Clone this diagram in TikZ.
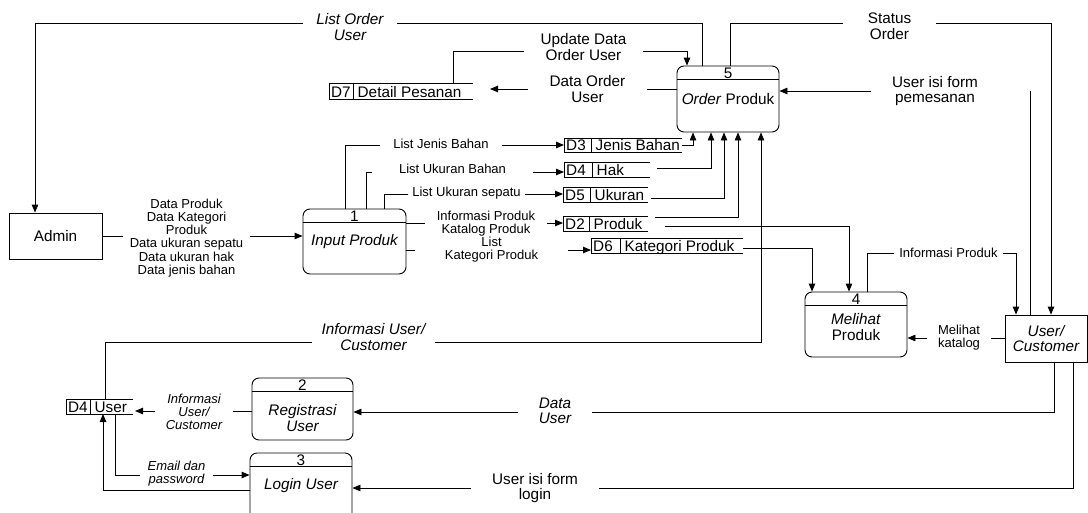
\documentclass[tikz,border=0pt]{standalone}
\usepackage{fontspec}
\setmainfont{Liberation Sans}
\usetikzlibrary{arrows.meta}
\tikzset{
  every picture/.style={x=1pt,y=-1pt},
  ln/.style={line width=0.9pt},
  fl/.style={line width=0.9pt, -{Triangle[length=8pt,width=6.5pt]}},
  big/.style={font=\fontsize{15.3}{15.5}\selectfont, inner sep=0pt, align=center},
  bigit/.style={font=\fontsize{15.3}{15.5}\selectfont\itshape, inner sep=0pt, align=center},
  sm/.style={font=\fontsize{13}{13.2}\selectfont, inner sep=0pt, align=center},
  smit/.style={font=\fontsize{13}{13.2}\selectfont\itshape, inner sep=0pt, align=center},
  lbl/.style={fill=white, inner xsep=0pt, inner ysep=2pt},
  proc/.style={draw, line width=0.9pt, rounded corners=7pt, inner sep=0pt},
  ent/.style={draw, line width=0.9pt, inner sep=0pt},
}
\newcommand\dstore[8]{%
  \node[minimum width=#4pt, minimum height=#5pt, anchor=north west, inner sep=0pt, outer sep=0pt] (#1) at (#2,#3) {};
  \draw[ln] (#1.north east) -- (#1.north west) -- (#1.south west) -- (#1.south east);
  \draw[ln] ([xshift=#6pt]#1.north west) -- ([xshift=#6pt]#1.south west);
  \node[big, anchor=base west] at ([xshift=2pt,yshift=1.5pt]#1.south west) {#7};
  \node[big, anchor=base west] at ([xshift={#6pt+4.5pt},yshift=1.5pt]#1.south west) {#8};
}
\begin{document}
\begin{tikzpicture}
\clip (0,0) rectangle (1088,512);
\fill[white] (0,0) rectangle (1088,512);

% entities
\node[ent, big, minimum width=93pt, minimum height=46pt] (admin) at (55.5,236) {Admin};
\node[ent, bigit, minimum width=82pt, minimum height=47pt] (uc) at (1046,338.5) {User/\\Customer};

% processes
\node[proc, minimum width=102pt, minimum height=66pt] (p5) at (728,99) {};
\draw[ln] ([yshift=-14pt]p5.north west) -- ([yshift=-14pt]p5.north east);
\node[big] (p5n) at (728,73) {5};
\node[big] (p5t) at (728,99) {\textit{Order} Produk};

\node[proc, minimum width=103pt, minimum height=65pt] (p1) at (354.5,241.5) {};
\draw[ln] ([yshift=-14pt]p1.north west) -- ([yshift=-14pt]p1.north east);
\node[big] (p1n) at (354.5,216) {1};
\node[bigit] (p1t) at (354.5,242) {Input Produk};

\node[proc, minimum width=101pt, minimum height=62pt] (p2) at (302.5,409) {};
\draw[ln] ([yshift=-14pt]p2.north west) -- ([yshift=-14pt]p2.north east);
\node[big] (p2n) at (302.5,385) {2};
\node[bigit] (p2t) at (302.5,418) {Registrasi\\User};

\node[proc, minimum width=102pt, minimum height=70pt] (p3) at (301,488) {};
\draw[ln] ([yshift=-14pt]p3.north west) -- ([yshift=-14pt]p3.north east);
\node[big] (p3n) at (301,460) {3};
\node[bigit] (p3t) at (301,486) {Login User};

\node[proc, minimum width=102pt, minimum height=65pt] (p4) at (856,324.5) {};
\draw[ln] ([yshift=-14pt]p4.north west) -- ([yshift=-14pt]p4.north east);
\node[big] (p4n) at (856,299) {4};
\node[big] (p4t) at (856,327) {\textit{Melihat}\\Produk};

% data stores
\dstore{d7}{329}{83}{144}{16}{24}{D7}{Detail Pesanan}
\dstore{d3}{564}{138}{118}{14}{27}{D3}{Jenis Bahan}
\dstore{d4h}{564}{162}{86}{15}{28}{D4}{Hak}
\dstore{d5}{563}{187}{85}{15}{27}{D5}{Ukuran}
\dstore{d2}{563}{216}{85}{15}{26}{D2}{Produk}
\dstore{d6}{591}{238}{152}{15}{29}{D6}{Kategori Produk}
\dstore{du}{66}{399}{67}{15}{24}{D4}{User}

% coordinates
\coordinate (a1) at (702,23); \coordinate (a2) at (35,23);
\coordinate (b1) at (730,23); \coordinate (b2) at (1051,23);
\coordinate (c1) at (1030,91); \coordinate (c2) at (871,91);
\coordinate (d1) at (453,51); \coordinate (d2c) at (687,51);
\coordinate (e1) at (490,89);
\coordinate (f1) at (693,145);
\coordinate (g0) at (657,168); \coordinate (g1) at (711,168);
\coordinate (h0) at (651,198); \coordinate (h1) at (724,198);
\coordinate (i0) at (655,217); \coordinate (i1) at (738,217);
\coordinate (j0) at (665,226); \coordinate (j1) at (849,226);
\coordinate (k1) at (812,248);
\coordinate (l1) at (105,342); \coordinate (l2) at (761,342);
\coordinate (m1) at (345,145);
\coordinate (n1) at (366,172);
\coordinate (o1) at (384,194);
\coordinate (q1) at (500,223);
\coordinate (r1) at (500,250);
\coordinate (s1) at (867,253); \coordinate (s2) at (1016,253);
\coordinate (t1) at (1000,338);
\coordinate (u1) at (135,411);
\coordinate (v1) at (115,475);
\coordinate (w1) at (103,490);
\coordinate (xa) at (1054,412);
\coordinate (ya) at (1073,488);

% flows
\draw[fl] (p5.north -| a1) -- (a1) -- (a2) -- (a2 |- admin.north);
\node[lbl, bigit, minimum width=94pt] at (350,27) {List Order\\User};

\draw[fl] (p5.north -| b1) -- (b1) -- (b2) -- (b2 |- uc.north);
\node[lbl, big, minimum width=93pt] at (889.5,26) {Status\\Order};

\draw[ln] (uc.north -| c1) -- (c1);
\draw[fl] (c2) -- (c2 -| p5.east);
\node[big] at (935,91) {User isi form\\pemesanan};

\draw[fl] (d7.north -| d1) -- (d1) -- (d2c) -- (d2c |- p5.north);
\node[lbl, big, minimum width=119pt] at (583.5,47) {Update Data\\Order User};

\draw[fl] (p5.west |- e1) -- (e1);
\node[lbl, big, minimum width=119pt] at (587.5,89) {Data Order\\User};

\draw[fl] (d3.east |- f1) -- (f1) -- (f1 |- p5.south);
\draw[fl] (g0) -- (g1) -- (g1 |- p5.south);
\draw[fl] (h0) -- (h1) -- (h1 |- p5.south);
\draw[fl] (i0) -- (i1) -- (i1 |- p5.south);
\draw[fl] (j0) -- (j1) -- (j1 |- p4.north);
\draw[fl] (d6.east |- k1) -- (k1) -- (k1 |- p4.north);

\draw[fl] (du.north -| l1) -- (l1) -- (l2) -- (l2 |- p5.south);
\node[lbl, bigit, minimum width=123pt] at (373.5,337) {Informasi User/\\Customer};

\draw[fl] (admin.east) -- (admin.east -| p1.west);
\node[lbl, sm, minimum width=127pt] at (186.5,238) {Data Produk\\Data Kategori\\Produk\\Data ukuran sepatu\\Data ukuran hak\\Data jenis bahan};

\draw[fl] (p1.north -| m1) -- (m1) -- (m1 -| d3.west);
\node[lbl, sm, minimum width=122pt] at (441,144) {List Jenis Bahan};
\draw[fl] (p1.north -| n1) -- (n1) -- (n1 -| d4h.west);
\node[lbl, sm, minimum width=161pt] at (452.5,169) {List Ukuran Bahan};
\draw[fl] (p1.north -| o1) -- (o1) -- (o1 -| d5.west);
\node[lbl, sm, minimum width=117pt] at (466.5,193.5) {List Ukuran sepatu};
\draw[fl] (p1.east |- q1) -- (q1 -| d2.west);
\node[lbl, sm, minimum width=122pt, inner ysep=0pt] at (486,224) {Informasi Produk\\Katalog Produk};
\draw[fl] (p1.east |- r1) -- (r1 -| d6.west);
\node[lbl, sm, minimum width=153pt, inner ysep=0pt] at (491.5,249.5) {List\\Kategori Produk};

\draw[fl] (p4.north -| s1) -- (s1) -- (s2) -- (s2 |- uc.north);
\node[lbl, sm, minimum width=109pt] at (948.5,253) {Informasi Produk};

\draw[fl] (uc.west |- t1) -- (t1 -| p4.east);
\node[lbl, sm, minimum width=64pt] at (959,338) {Melihat\\katalog};

\draw[fl] (p2.west |- u1) -- (u1);
\node[lbl, smit, minimum width=78pt] at (194,412) {Informasi\\User/\\Customer};

\draw[fl] (du.south -| v1) -- (v1) -- (v1 -| p3.west);
\node[lbl, smit, minimum width=73pt] at (176.5,474) {Email dan\\password};

\draw[fl] (p3.west |- w1) -- (w1) -- (w1 |- du.south);

\draw[fl] (uc.south -| xa) -- (xa) -- (xa -| p2.east);
\node[lbl, bigit, minimum width=74pt] at (555,411) {Data\\User};

\draw[fl] (uc.south -| ya) -- (ya) -- (ya -| p3.east);
\node[lbl, big, minimum width=128pt] at (535,488) {User isi form\\login};
\end{tikzpicture}
\end{document}
